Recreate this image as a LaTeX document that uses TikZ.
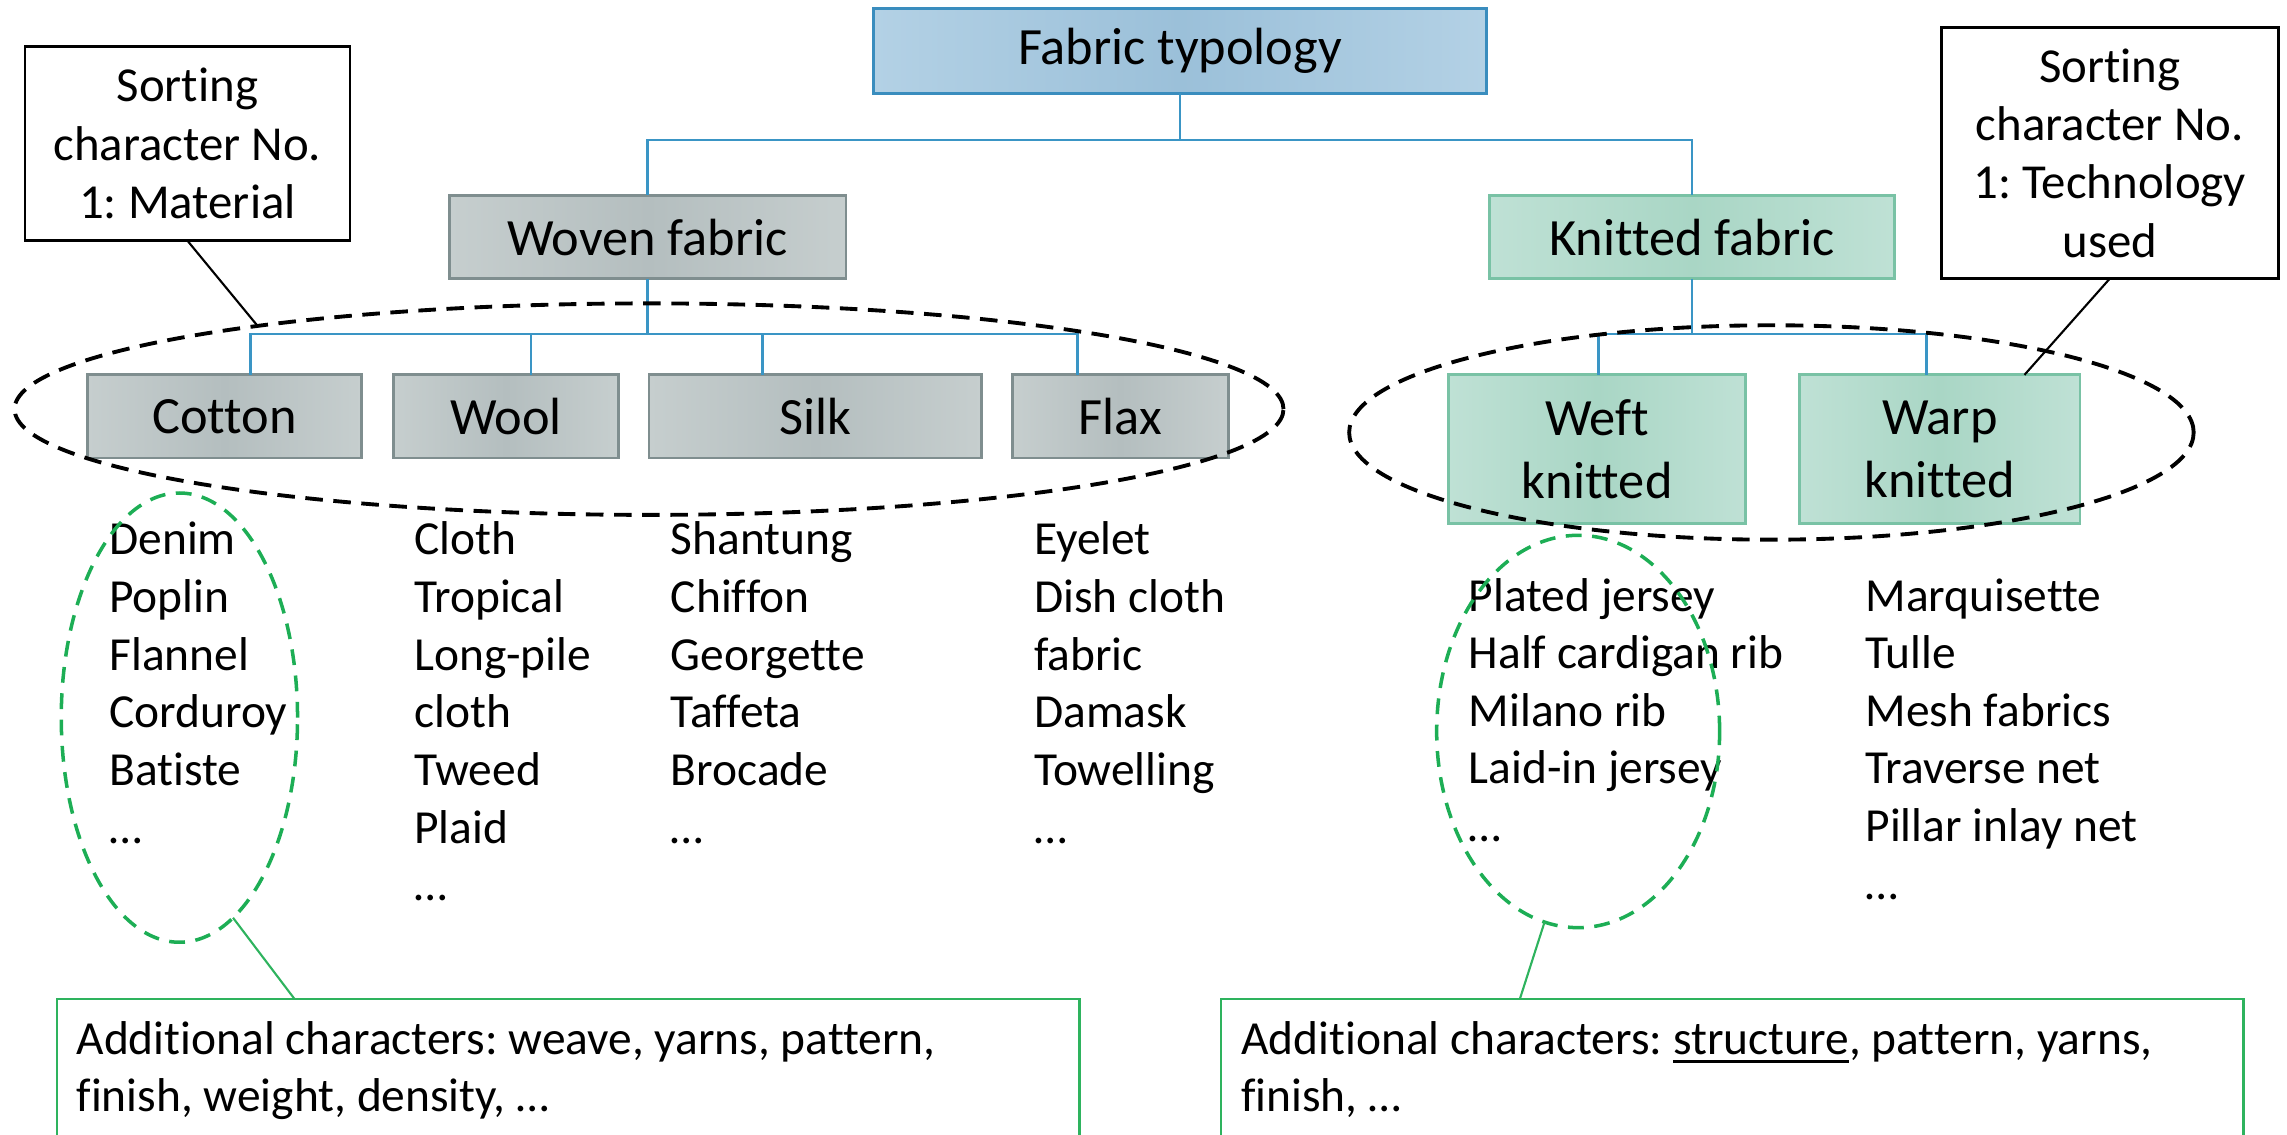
\documentclass[tikz,border=0pt]{standalone}
\usepackage{fontspec}
\setmainfont{Carlito}[Ligatures=NoCommon]
\usetikzlibrary{fit,shapes.geometric}
\definecolor{titleOut}{HTML}{B3D1E5}
\definecolor{titleIn}{HTML}{9BC0D9}
\definecolor{titleBd}{HTML}{3A8DBE}
\definecolor{greyOut}{HTML}{C6CECE}
\definecolor{greyIn}{HTML}{B4BEBF}
\definecolor{greyBd}{HTML}{7F8E8F}
\definecolor{grnOut}{HTML}{BFE1D5}
\definecolor{grnIn}{HTML}{A9D6C5}
\definecolor{grnBd}{HTML}{79C2A5}
\definecolor{connC}{HTML}{3A95C5}
\definecolor{gDash}{HTML}{1DAE55}
\definecolor{gLine}{HTML}{2EB35E}
\newcommand\pxu{0.014585cm}
\newcommand\fontLbl{\fontsize{14.9pt}{17.8pt}\selectfont}
\newcommand\fontSort{\fontsize{13.9pt}{16.6pt}\selectfont}
\newcommand\fontList{\fontsize{13.5pt}{16.4pt}\selectfont}
\newcommand\fontAdd{\fontsize{13.5pt}{16.4pt}\selectfont}
\newcommand\myul[1]{\setbox0\hbox{#1}\rlap{\rule[-2.6pt]{\wd0}{0.9pt}}\box0}
\frenchspacing
\begin{document}
\begin{tikzpicture}[x=\pxu,y=-\pxu,
  base/.style={inner sep=0pt, outer sep=0pt},
  sz/.style 2 args={minimum width=#1*\pxu, minimum height=#2*\pxu},
  titlebox/.style={base, draw=titleBd, line width=0.8pt, left color=titleOut, right color=titleOut, middle color=titleIn, font=\fontLbl},
  greybox/.style={base, draw=greyBd, line width=0.8pt, left color=greyOut, right color=greyOut, middle color=greyIn, font=\fontLbl},
  greenbox/.style={base, draw=grnBd, line width=0.8pt, left color=grnOut, right color=grnOut, middle color=grnIn, font=\fontLbl, align=center},
  sortbox/.style={base, draw=black, line width=0.7pt, fill=white, font=\fontSort, align=center},
  conn/.style={draw=connC, line width=0.8pt},
  leader/.style={draw=black, line width=0.6pt},
  gleader/.style={draw=gLine, line width=0.6pt},
  dashell/.style={ellipse, base, draw=black, line width=1.1pt, dash pattern=on 5pt off 3pt},
  gell/.style={ellipse, base, draw=gDash, line width=1pt, dash pattern=on 4.5pt off 3pt},
  listtxt/.style={base, anchor=base west, align=left, font=\fontList},
  addbox/.style={base, draw=gLine, line width=0.7pt},
  addtxt/.style={base, anchor=base west, align=left, font=\fontAdd}]
\useasboundingbox (0,0) rectangle (1568,777.5);

% top level
\node[titlebox, sz={420}{58}] (title) at (809,35) {Fabric typology};
\node[greybox, sz={272}{57}] (woven) at (444,162.5) {Woven fabric};
\node[greenbox, sz={278}{57}] (knitted) at (1160,162.5) {Knitted fabric};

% material boxes
\node[greybox, sz={188}{57}] (cotton) at (154,285.5) {Cotton};
\node[greybox, sz={154}{57}] (wool) at (347,285.5) {Wool};
\node[greybox, sz={228}{57}] (silk) at (559,285.5) {Silk};
\node[greybox, sz={148}{57}] (flax) at (768,285.5) {Flax};

% technology boxes
\node[greenbox, sz={204}{102}] (weft) at (1095,308) {Weft\\knitted};
\node[greenbox, sz={192}{102}] (warp) at (1330,308) {Warp\\knitted};

% sorting boxes
\node[sortbox, sz={223}{133}] (sortL) at (128.5,98.5) {Sorting\\character No.\\1: Material};
\node[sortbox, sz={231}{172}] (sortR) at (1446.5,105) {Sorting\\character No.\\1: Technology\\used};

% connectors
\draw[conn] (title.south) -- ++(0,32) coordinate (bus1) -| (woven.north);
\draw[conn] (bus1) -| (knitted.north);
\draw[conn] (woven.south) -- ++(0,38) coordinate (bus2) -| ([shift={(112,0)}]cotton.north west);
\draw[conn] (bus2) -| ([shift={(94,0)}]wool.north west);
\draw[conn] (bus2) -| ([shift={(78,0)}]silk.north west);
\draw[conn] (bus2) -| ([shift={(45,0)}]flax.north west);
\draw[conn] (knitted.south) -- ++(0,38) coordinate (bus3) -| ([shift={(103,0)}]weft.north west);
\draw[conn] (bus3) -| ([shift={(87,0)}]warp.north west);

% lists (anchored at the baseline of their last line)
\node[listtxt] (lcotton) at (75,578) {Denim\\Poplin\\Flannel\\Corduroy\\Batiste\\…};
\node[listtxt] (lwool) at (284,617.5) {Cloth\\Tropical\\Long-pile\\cloth\\Tweed\\Plaid\\…};
\node[listtxt] (lsilk) at (460,578) {Shantung\\Chiffon\\Georgette\\Taffeta\\Brocade\\…};
\node[listtxt] (lflax) at (709,578) {Eyelet\\Dish cloth\\fabric\\Damask\\Towelling\\…};
\node[listtxt] (lweft) at (1007,577) {Plated jersey\\Half cardigan rib\\Milano rib\\Laid-in jersey\\…};
\node[listtxt] (lwarp) at (1279,616.5) {Marquisette\\Tulle\\Mesh fabrics\\Traverse net\\Pillar inlay net\\…};

% dashed ellipses
\node[dashell, sz={870}{145}] (ellW) at (445,280.5) {};
\node[dashell, sz={579}{147}] (ellK) at (1214.5,296.5) {};
\node[gell, sz={162}{308}] (gellL) at (123,492) {};
\node[gell, sz={194}{269}] (gellR) at (1082,501.5) {};

% bottom boxes
\node[addbox, fit={(39,685) (740,800)}] (addL) {};
\node[addbox, fit={(837,685) (1538,800)}] (addR) {};
\node[addtxt] (addLt) at (52.5,762.2) {Additional characters: weave, yarns, pattern,\\finish, weight, density, …};
\node[addtxt] (addRt) at (851,762.2) {Additional characters: \myul{structure}, pattern, yarns,\\finish, …};

% leaders
\draw[leader] (sortL.south) -- (ellW.168);
\draw[leader] (sortR.south) -- ([shift={(154,0)}]warp.north west);
\draw[gleader] (gellL.-75) -- ([shift={(163,0)}]addL.north west);
\draw[gleader] (gellR.-100) -- ([shift={(205,0)}]addR.north west);
\end{tikzpicture}
\end{document}
